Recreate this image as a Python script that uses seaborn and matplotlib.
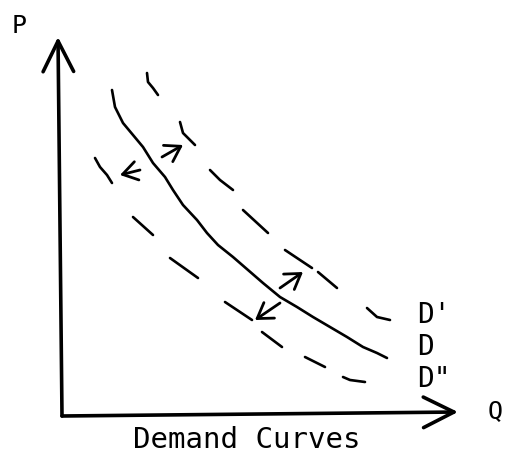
import matplotlib
matplotlib.use("Agg")
import matplotlib.pyplot as plt
import seaborn as sns
import pandas as pd

# ---- data (Q, P units; origin at the axes corner) ----
demand_q = [50, 53, 61, 71, 81, 91, 103, 111, 121, 135, 145, 156, 171, 186,
            201, 218, 235, 251, 268, 285, 301, 315, 325]
demand_p = [326, 309, 293, 281, 269, 253, 239, 226, 211, 196, 183, 171, 159, 146,
            133, 119, 109, 99, 89, 79, 69, 63, 58]

# D' (shift right) drawn as hand dashes: one list per dash
d_up_q = [[85, 86, 91, 96], [118, 121, 126, 133], [148, 158, 171], [181, 206],
          [223, 250], [256, 275], [305, 315, 328]]
d_up_p = [[343, 334, 328, 321], [294, 283, 278, 271], [246, 236, 226], [206, 183],
          [166, 148], [144, 128], [108, 99, 96]]

# D'' (shift left)
d_dn_q = [[33, 38, 45, 50], [71, 91], [108, 136], [163, 190], [200, 220],
          [243, 263], [281, 288, 303]]
d_dn_p = [[258, 249, 241, 233], [199, 181], [158, 138], [114, 96], [84, 69],
          [59, 49], [39, 36, 34]]

# shift arrows: tail -> tip
arrow_tail = [(100, 259), (78, 246), (218, 128), (218, 113)]
arrow_tip = [(121, 271), (58, 241), (241, 144), (193, 96)]

# axes (hand drawn)
axis_origin = (0, 0)
y_axis_tip = (-4, 379)
x_axis_tip = (396, 4)

curve_labels = ["D'", "D", 'D"']
curve_label_p = [93, 61, 29]
title = "Demand Curves"

# ---- build tables ----
solid = pd.DataFrame({"Q": demand_q, "P": demand_p})
rows = []
for name, qs, ps in (("up", d_up_q, d_up_p), ("dn", d_dn_q, d_dn_p)):
    for i, (q, p) in enumerate(zip(qs, ps)):
        for qq, pp in zip(q, p):
            rows.append({"Q": qq, "P": pp, "seg": f"{name}{i}"})
dashes = pd.DataFrame(rows)

sns.set_theme(style="white")
plt.rcParams["font.family"] = ["DejaVu Sans Mono", "DejaVu Sans"]

fig = plt.figure(figsize=(5.05, 4.55), dpi=100)
ax = fig.add_axes([0, 0, 1, 1])
ax.set_xlim(-62, 443)
ax.set_ylim(-39, 416)
ax.axis("off")

sns.lineplot(data=solid, x="Q", y="P", sort=False, estimator=None,
             color="black", lw=1.9, ax=ax)
sns.lineplot(data=dashes, x="Q", y="P", units="seg", sort=False,
             estimator=None, color="black", lw=1.9, ax=ax)
for ln in ax.lines:
    ln.set_solid_capstyle("round")
    ln.set_solid_joinstyle("round")

# axes with arrow heads
for tip in (y_axis_tip, x_axis_tip):
    ax.annotate("", xy=tip, xytext=axis_origin,
                arrowprops=dict(arrowstyle="->,head_length=1.0,head_width=0.5",
                                mutation_scale=22, lw=2.6, color="black",
                                shrinkA=0, shrinkB=0, capstyle="round"))

for tail, tip in zip(arrow_tail, arrow_tip):
    ax.annotate("", xy=tip, xytext=tail,
                arrowprops=dict(arrowstyle="->,head_length=0.7,head_width=0.45",
                                mutation_scale=15, lw=2.0, color="black",
                                shrinkA=0, shrinkB=0))

ax.text(-50, 383, "P", fontsize=18, ha="left", va="baseline", color="black")
ax.text(426, -2, "Q", fontsize=18, ha="left", va="baseline", color="black")
for lab, p in zip(curve_labels, curve_label_p):
    ax.text(355, p, lab, fontsize=20, ha="left", va="baseline", color="black")
ax.text(185, -32, title, fontsize=21, ha="center", va="baseline", color="black")

fig.savefig("out.png", dpi=100)
